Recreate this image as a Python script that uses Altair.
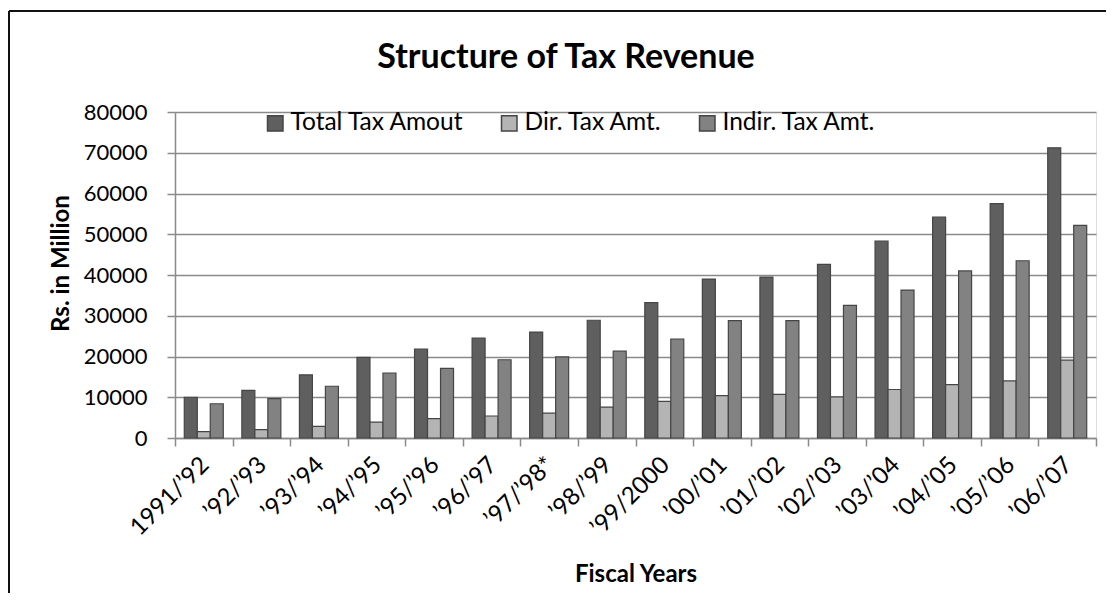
import altair as alt
import pandas as pd

years = ["1991/’92", "’92/’93", "’93/’94", "’94/’95", "’95/’96", "’96/’97",
         "’97/’98*", "’98/’99", "’99/2000", "’00/’01", "’01/’02", "’02/’03",
         "’03/’04", "’04/’05", "’05/’06", "’06/’07"]
series_names = ["Total Tax Amout", "Dir. Tax Amt.", "Indir. Tax Amt."]
total_tax = [10000, 11700, 15500, 19800, 21800, 24500, 26000, 28900,
             33200, 39000, 39500, 42600, 48300, 54200, 57500, 71200]
direct_tax = [1550, 2050, 2850, 3900, 4750, 5400, 6100, 7600,
              9000, 10400, 10700, 10100, 11900, 13100, 14000, 19100]
indirect_tax = [8400, 9650, 12700, 15950, 17100, 19200, 19900, 21300,
                24300, 28800, 28800, 32550, 36300, 41000, 43500, 52200]
series_colors = ["#5f5f5f", "#b4b4b4", "#828282"]
y_ticks = [0, 10000, 20000, 30000, 40000, 50000, 60000, 70000, 80000]
chart_title = "Structure of Tax Revenue"

rows = []
for name, vals in zip(series_names, [total_tax, direct_tax, indirect_tax]):
    for yr, v in zip(years, vals):
        rows.append({"year": yr, "series": name, "value": v})
df = pd.DataFrame(rows)

GRID = "#8a8a8a"

bars = alt.Chart(df).mark_bar(stroke="#454545", strokeWidth=1.2).encode(
    x=alt.X("year:N", sort=years,
            scale=alt.Scale(paddingInner=0, paddingOuter=0),
            axis=alt.Axis(title="Fiscal Years", labelAngle=-45, labelAlign="right",
                          labelBaseline="middle", labelFont="Lato", labelFontSize=24,
                          labelColor="black", labelPadding=15, labelOffset=1,
                          tickBand="extent", tickSize=8, tickColor=GRID, tickWidth=1.5,
                          domainColor=GRID, domainWidth=1.5, grid=False,
                          titleFont="Lato", titleFontWeight="bold", titleFontSize=24,
                          titleColor="black", titleY=136, titleBaseline="middle")),
    xOffset=alt.XOffset("series:N", sort=series_names,
                        scale=alt.Scale(paddingInner=0, paddingOuter=0.715)),
    y=alt.Y("value:Q", scale=alt.Scale(domain=[0, 80000], nice=False),
            axis=alt.Axis(title="Rs. in Million", values=y_ticks, format="d",
                          labelFont="Lato", labelFontSize=22, labelColor="black",
                          labelPadding=20, tickSize=8, tickColor=GRID, tickWidth=1.5,
                          domainColor=GRID, domainWidth=1.5, gridColor=GRID, gridWidth=1.5,
                          titleFont="Lato", titleFontWeight="bold", titleFontSize=24,
                          titleColor="black", titleX=-114, titleY=151,
                          titleBaseline="middle", titleAlign="center")),
    color=alt.Color("series:N", sort=series_names,
                    scale=alt.Scale(domain=series_names, range=series_colors),
                    legend=alt.Legend(title=None, orient="none", direction="horizontal",
                                      legendX=88, legendY=-1, padding=0,
                                      symbolType="square", symbolSize=240,
                                      symbolStrokeColor="#454545", symbolStrokeWidth=1.5,
                                      labelFont="Lato", labelFontSize=24.5, labelColor="black",
                                      labelOffset=3, columnPadding=32, labelLimit=400)),
)

one = pd.DataFrame({"a": [0]})
border_top = alt.Chart(one).mark_rule(color="#111111", strokeWidth=2).encode(
    x=alt.value(-166), x2=alt.value(931), y=alt.value(-101))
border_left = alt.Chart(one).mark_rule(color="#111111", strokeWidth=2).encode(
    x=alt.value(-166), y=alt.value(-101), y2=alt.value(485))
title = alt.Chart(pd.DataFrame({"t": [chart_title]})).mark_text(
    font="Lato", fontWeight="bold", fontSize=34, align="center", baseline="alphabetic",
    color="black").encode(x=alt.value(391), y=alt.value(-44), text="t:N")

chart = alt.layer(bars, border_top, border_left, title).properties(
    width=921, height=326,
    padding={"left": 167, "top": 104, "right": 10, "bottom": 155},
    autosize=alt.AutoSizeParams(type="none"),
).configure_view(fill="#e6e6e6", strokeWidth=0).configure(background="white")

chart.save("out.html", embed_options={"renderer": "svg", "actions": False})
